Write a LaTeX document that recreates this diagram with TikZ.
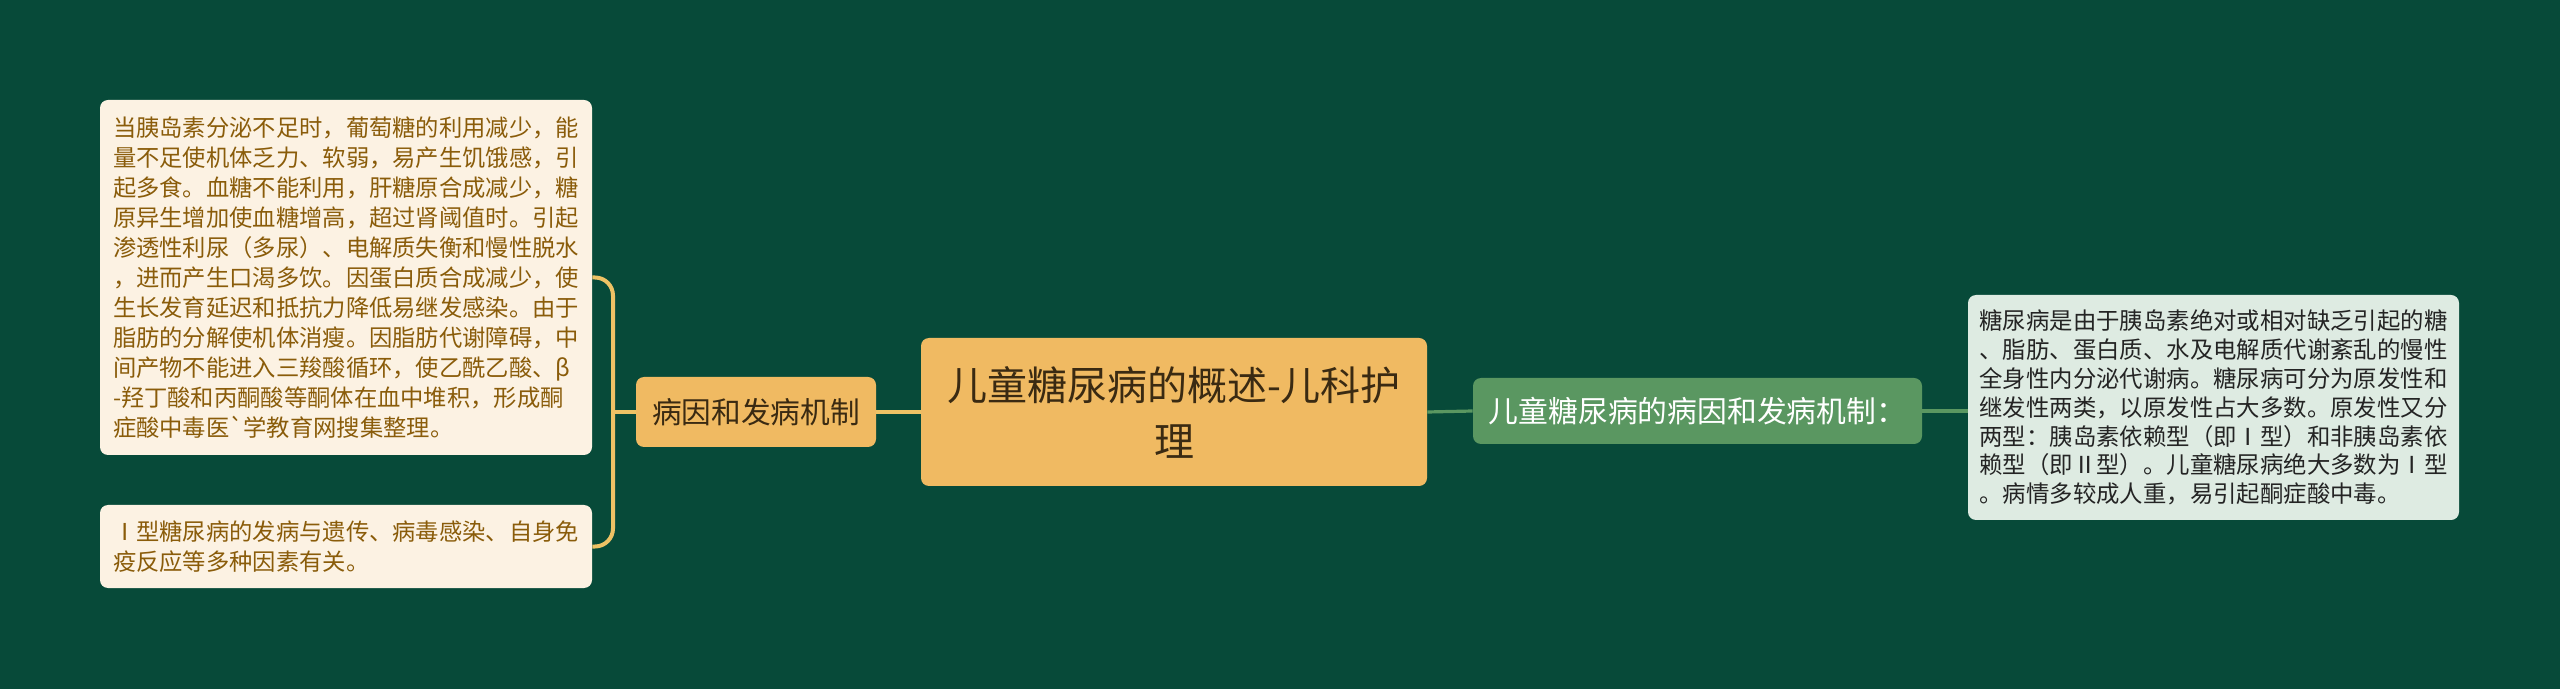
\documentclass[tikz,border=0pt]{standalone}
\usepackage{fontspec}
\setmainfont{Noto Sans CJK SC}
\newfontfamily\cjkplain{Noto Sans CJK SC}
\definecolor{bg}{HTML}{074A39}
\definecolor{orangefill}{HTML}{F0BA62}
\definecolor{darktext}{HTML}{3A2A12}
\definecolor{leaffill}{HTML}{FCF2E3}
\definecolor{leaftext}{HTML}{8A5C0A}
\definecolor{goldline}{HTML}{EEC265}
\definecolor{greenfill}{HTML}{5A9761}
\definecolor{rightfill}{HTML}{DEEBE2}
\definecolor{righttext}{HTML}{242424}
\begin{document}
\begin{tikzpicture}[x=0.5pt,y=-0.5pt,
  leaf/.style={fill=leaffill, text=leaftext, rounded corners=4pt, inner sep=0pt, align=left,
    font=\cjkplain\fontsize{11.65pt}{15pt}\selectfont},
  mainnode/.style={fill=orangefill, text=darktext, rounded corners=4pt, inner sep=0pt, align=center},
  greennode/.style={fill=greenfill, text=white, rounded corners=4pt, inner sep=0pt,
    font=\cjkplain\fontsize{14.9pt}{18pt}\selectfont},
  rightleaf/.style={fill=rightfill, text=righttext, rounded corners=4pt, inner sep=0pt, align=left,
    font=\cjkplain\fontsize{11.7pt}{14.4pt}\selectfont},
  goldconn/.style={draw=goldline, line width=2pt},
  greenconn/.style={draw=greenfill, line width=1.6pt}]
\fill[bg] (0,0) rectangle (2560,689);
\useasboundingbox (0,0) rectangle (2560,689);

\node[leaf, minimum width=246pt, minimum height=177.5pt] (lt) at (346,277.5) {当胰岛素分泌不足时，葡萄糖的利用减少，能\\
量不足使机体乏力、软弱，易产生饥饿感，引\\
起多食。血糖不能利用，肝糖原合成减少，糖\\
原异生增加使血糖增高，超过肾阈值时。引起\\
渗透性利尿（多尿）、电解质失衡和慢性脱水\\
，进而产生口渴多饮。因蛋白质合成减少，使\\
生长发育延迟和抵抗力降低易继发感染。由于\\
脂肪的分解使机体消瘦。因脂肪代谢障碍，中\\
间产物不能进入三羧酸循环，使乙酰乙酸、β\\
-羟丁酸和丙酮酸等酮体在血中堆积，形成酮\\
症酸中毒医`学教育网搜集整理。};

\node[leaf, minimum width=246pt, minimum height=41.5pt] (lb) at (346,546.5) {Ⅰ型糖尿病的发病与遗传、病毒感染、自身免\\
疫反应等多种因素有关。};

\node[mainnode, minimum width=120pt, minimum height=35pt, font=\cjkplain\fontsize{14.85pt}{18pt}\selectfont] (m) at (756,412) {病因和发病机制};

\node[mainnode, minimum width=253pt, minimum height=74pt, font=\cjkplain\fontsize{20pt}{28pt}\selectfont] (c) at (1174,412) {儿童糖尿病的概述-儿科护\\理};

\node[greennode, minimum width=224.5pt, minimum height=33pt] (g) at (1697.5,411) {儿童糖尿病的病因和发病机制：};

\node[rightleaf, minimum width=245.5pt, minimum height=112.5pt] (r) at (2213.5,407.5) {糖尿病是由于胰岛素绝对或相对缺乏引起的糖\\
、脂肪、蛋白质、水及电解质代谢紊乱的慢性\\
全身性内分泌代谢病。糖尿病可分为原发性和\\
继发性两类，以原发性占大多数。原发性又分\\
两型：胰岛素依赖型（即Ⅰ型）和非胰岛素依\\
赖型（即Ⅱ型）。儿童糖尿病绝大多数为Ⅰ型\\
。病情多较成人重，易引起酮症酸中毒。};

\coordinate (br) at (613,412);
\draw[goldconn] (c.west) -- (m.east);
\draw[goldconn] (m.west) -- (br);
\draw[goldconn, rounded corners=9pt] (lt.east) -| (br) |- (lb.east);
\draw[greenconn] (c.east) -- (g.west);
\draw[greenconn] (g.east) -- (g.east -| r.west);
\end{tikzpicture}
\end{document}
